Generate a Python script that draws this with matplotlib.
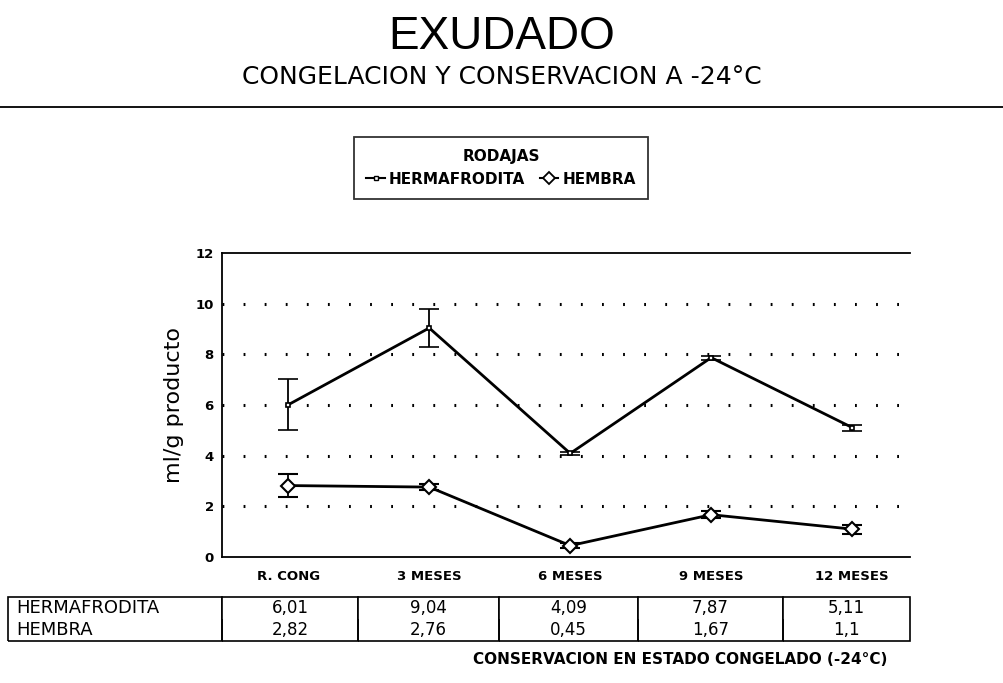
import matplotlib
matplotlib.use("Agg")
import matplotlib.pyplot as plt
from matplotlib.lines import Line2D
from matplotlib import font_manager

categories = ["R. CONG", "3 MESES", "6 MESES", "9 MESES", "12 MESES"]
herma = [6.01, 9.04, 4.09, 7.87, 5.11]
herma_err = [1.0, 0.75, 0.05, 0.08, 0.12]
hembra = [2.82, 2.76, 0.45, 1.67, 1.1]
hembra_err = [0.45, 0.12, 0.1, 0.15, 0.18]
herma_lbl = ["6,01", "9,04", "4,09", "7,87", "5,11"]
hembra_lbl = ["2,82", "2,76", "0,45", "1,67", "1,1"]
yticks = [0, 2, 4, 6, 8, 10, 12]

names = {f.name for f in font_manager.fontManager.ttflist}
narrow = [n for n in ["DejaVu Sans Condensed", "Liberation Sans Narrow", "Liberation Sans"] if n in names]
if not narrow:
    narrow = ["DejaVu Sans"]

W, H = 1004, 683
fig = plt.figure(figsize=(W / 100, H / 100), dpi=100)
fig.patch.set_facecolor("white")

ax = fig.add_axes([222 / W, 1 - 557 / H, (910 - 222) / W, (557 - 253) / H])
x = list(range(len(categories)))

ax.errorbar(x, herma, yerr=herma_err, color="black", lw=2, marker="s", ms=3.5,
            mfc="white", mec="black", mew=1.2, capsize=7, elinewidth=1.3, capthick=1.5)
ax.errorbar(x, hembra, yerr=hembra_err, color="black", lw=2, marker="D", ms=7,
            mfc="white", mec="black", mew=1.5, capsize=7, elinewidth=1.3, capthick=1.5)

ax.set_xlim(-0.47, 4.41)
ax.set_ylim(0, 12)
ax.set_yticks(yticks)
ax.set_yticklabels([str(v) for v in yticks], fontsize=9.5, fontweight="bold")
ax.set_xticks(x)
ax.set_xticklabels(categories, fontsize=9.5, fontweight="bold")
ax.tick_params(axis="both", length=0, pad=6)
ax.tick_params(axis="x", pad=9)
for v in yticks[1:-1]:
    ax.axhline(v, color="black", lw=2.2, linestyle=(0, (0.6, 6.3)), zorder=0)
ax.spines["right"].set_visible(False)
for s in ["left", "top", "bottom"]:
    ax.spines[s].set_linewidth(1.3)
ax.set_ylabel("ml/g producto", fontsize=16, labelpad=8)

# table
cells = [["HERMAFRODITA"] + herma_lbl, ["HEMBRA"] + hembra_lbl]
colw = [214, 136, 141, 139, 145, 127]
aw = 910 - 222
ah = 557 - 253
tbl = ax.table(cellText=cells, colWidths=colw, cellLoc="center",
               bbox=[(8 - 222) / aw, (557 - 641) / ah, (910 - 8) / aw, 44 / ah])
tbl.auto_set_font_size(False)
tbl.set_fontsize(12)
for (r, c), cell in tbl.get_celld().items():
    cell.set_linewidth(1.2)
    cell.visible_edges = "TLR" if r == 0 else "BLR"
    if c == 0:
        cell._loc = "left"
        cell.PAD = 0.04
        cell.get_text().set_horizontalalignment("left")
        cell.get_text().set_fontsize(13)

fig.text(680 / W, 1 - 660 / H, "CONSERVACION EN ESTADO CONGELADO (-24°C)",
         ha="center", va="center", fontsize=11, fontweight="bold")

# titles
fig.text(0.5, 1 - 37 / H, "EXUDADO", ha="center", va="center", fontsize=33,
         family=narrow)
fig.text(0.5, 1 - 77 / H, "CONGELACION Y CONSERVACION A -24°C", ha="center",
         va="center", fontsize=18, family=["DejaVu Sans"])
fig.add_artist(Line2D([0, 1], [1 - 107 / H, 1 - 107 / H], color="black", lw=1.3))

# legend
handles = [Line2D([], [], color="black", lw=1.5, marker="s", ms=3, mfc="white"),
           Line2D([], [], color="black", lw=1.5, marker="D", ms=6.5, mfc="white", mew=1.3)]
leg = fig.legend(handles, ["HERMAFRODITA", "HEMBRA"], title="RODAJAS", ncol=2,
                 loc="center", bbox_to_anchor=(501 / W, 1 - 168 / H),
                 frameon=True, fancybox=False, edgecolor="black",
                 prop={"size": 11, "weight": "bold"}, handlelength=1.2,
                 handletextpad=0.25, columnspacing=1.0, borderpad=0.8,
                 borderaxespad=0)
leg.get_title().set_fontweight("bold")
leg.get_title().set_fontsize(11)
leg.get_frame().set_linewidth(1.3)

fig.savefig("out.png", dpi=100, facecolor="white")
